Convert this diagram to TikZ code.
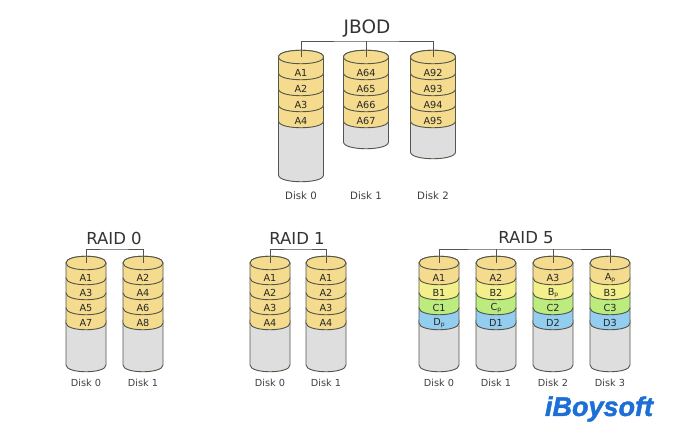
\documentclass[tikz,border=0pt]{standalone}
\usepackage{fontspec}
\setmainfont{DejaVu Sans}
\newfontfamily\logofont[FakeBold=1.6]{Liberation Sans}
\definecolor{bandA}{HTML}{F4DB8E}
\definecolor{bandB}{HTML}{F3F08C}
\definecolor{bandC}{HTML}{BCEB7E}
\definecolor{bandD}{HTML}{93CDEF}
\definecolor{bodygrey}{HTML}{DEDEDE}
\definecolor{edgegrey}{HTML}{55554A}
\definecolor{logoblue}{HTML}{1C6FD6}
\tikzset{
  diskedge/.style={draw=edgegrey,line width=0.9pt},
  bandtext/.style={font=\fontsize{9.7}{10}\selectfont,text=black!85,inner sep=0pt},
  disktext/.style={font=\fontsize{9.7}{10}\selectfont,text=black!75,inner sep=0pt},
  titletext/.style={font=\fontsize{16.5}{18}\selectfont,text=black!80,inner sep=0pt},
  bus/.style={draw=edgegrey,line width=0.9pt}
}
% half width of a disk and height of one band
\def\dr{20}
\def\bh{15}
% name, x, y of the band's top edge, colour, text
\newcommand{\diskband}[5]{
  \begin{scope}[shift={(#2,#3)}]
    \filldraw[diskedge,fill=#4] (-\dr,0) .. controls (-\dr,-9) and (\dr,-9) .. (\dr,0) -- (\dr,\bh) .. controls (\dr,\bh+9) and (-\dr,\bh+9) .. (-\dr,\bh) -- cycle;
    \node[bandtext] (#1) at (0,\bh) {#5};
  \end{scope}}
% x, y of the top edge, y of the bottom edge
\newcommand{\diskbody}[3]{
  \filldraw[diskedge,fill=bodygrey] (#1-\dr,#2) -- (#1-\dr,#3) .. controls (#1-\dr,#3+9) and (#1+\dr,#3+9) .. (#1+\dr,#3) -- (#1+\dr,#2) -- cycle;}
% name, x, y, colour
\newcommand{\diskcap}[4]{
  \filldraw[diskedge,fill=#4] (#2-\dr,#3) .. controls (#2-\dr,#3-9) and (#2+\dr,#3-9) .. (#2+\dr,#3) .. controls (#2+\dr,#3+9) and (#2-\dr,#3+9) .. (#2-\dr,#3) -- cycle;
  \coordinate (#1) at (#2,#3);}
\newcommand{\sub}[1]{{\fontsize{6}{6}\selectfont\raisebox{-0.5pt}{#1}}}
\begin{document}
\begin{tikzpicture}[x=1pt,y=-1pt]
  \useasboundingbox (0,0) rectangle (675,430);
  \fill[white] (0,0) rectangle (675,430);

  % JBOD
  \def\dr{22.5}
  \def\bh{16}
  \diskbody{301}{120}{175}
  \diskband{j0d}{301}{105}{bandA}{A4}
  \diskband{j0c}{301}{89}{bandA}{A3}
  \diskband{j0b}{301}{73}{bandA}{A2}
  \diskband{j0a}{301}{57}{bandA}{A1}
  \diskcap{jtop0}{301}{57}{bandA}
  \diskbody{366}{120}{142}
  \diskband{j1d}{366}{105}{bandA}{A67}
  \diskband{j1c}{366}{89}{bandA}{A66}
  \diskband{j1b}{366}{73}{bandA}{A65}
  \diskband{j1a}{366}{57}{bandA}{A64}
  \diskcap{jtop1}{366}{57}{bandA}
  \diskbody{433}{120}{152}
  \diskband{j2d}{433}{105}{bandA}{A95}
  \diskband{j2c}{433}{89}{bandA}{A94}
  \diskband{j2b}{433}{73}{bandA}{A93}
  \diskband{j2a}{433}{57}{bandA}{A92}
  \diskcap{jtop2}{433}{57}{bandA}
  \coordinate (jbus) at (366,41);
  \draw[bus] (jtop0) |- (jbus) -| (jtop2);
  \draw[bus] (jtop1) -- (jbus);
  \node[titletext,font=\fontsize{18.5}{20}\selectfont] (jtitle) at (367,28) {JBOD};
  \node[disktext,font=\fontsize{10.2}{11}\selectfont] (jdisk0) at (301,196) {Disk 0};
  \node[disktext,font=\fontsize{10.2}{11}\selectfont] (jdisk1) at (366,196) {Disk 1};
  \node[disktext,font=\fontsize{10.2}{11}\selectfont] (jdisk2) at (433,196) {Disk 2};

  % RAID 0
  \def\dr{20}
  \def\bh{15}
  \diskbody{86}{320}{365}
  \diskband{a0d}{86}{308}{bandA}{A7}
  \diskband{a0c}{86}{293}{bandA}{A5}
  \diskband{a0b}{86}{278}{bandA}{A3}
  \diskband{a0a}{86}{263}{bandA}{A1}
  \diskcap{atop0}{86}{263}{bandA}
  \diskbody{143}{320}{365}
  \diskband{a1d}{143}{308}{bandA}{A8}
  \diskband{a1c}{143}{293}{bandA}{A6}
  \diskband{a1b}{143}{278}{bandA}{A4}
  \diskband{a1a}{143}{263}{bandA}{A2}
  \diskcap{atop1}{143}{263}{bandA}
  \coordinate (abus) at (114,249);
  \draw[bus] (atop0) |- (abus) -| (atop1);
  \node[titletext] (atitle) at (114,238) {RAID 0};
  \node[disktext] (adisk0) at (86,383) {Disk 0};
  \node[disktext] (adisk1) at (143,383) {Disk 1};

  % RAID 1
  \diskbody{270}{320}{365}
  \diskband{b0d}{270}{308}{bandA}{A4}
  \diskband{b0c}{270}{293}{bandA}{A3}
  \diskband{b0b}{270}{278}{bandA}{A2}
  \diskband{b0a}{270}{263}{bandA}{A1}
  \diskcap{btop0}{270}{263}{bandA}
  \diskbody{326}{320}{365}
  \diskband{b1d}{326}{308}{bandA}{A4}
  \diskband{b1c}{326}{293}{bandA}{A3}
  \diskband{b1b}{326}{278}{bandA}{A2}
  \diskband{b1a}{326}{263}{bandA}{A1}
  \diskcap{btop1}{326}{263}{bandA}
  \coordinate (bbus) at (298,249);
  \draw[bus] (btop0) |- (bbus) -| (btop1);
  \node[titletext] (btitle) at (297,238) {RAID 1};
  \node[disktext] (bdisk0) at (270,383) {Disk 0};
  \node[disktext] (bdisk1) at (326,383) {Disk 1};

  % RAID 5
  \diskbody{439}{320}{365}
  \diskband{c0d}{439}{308}{bandD}{D\sub{p}}
  \diskband{c0c}{439}{293}{bandC}{C1}
  \diskband{c0b}{439}{278}{bandB}{B1}
  \diskband{c0a}{439}{263}{bandA}{A1}
  \diskcap{ctop0}{439}{263}{bandA}
  \diskbody{496}{320}{365}
  \diskband{c1d}{496}{308}{bandD}{D1}
  \diskband{c1c}{496}{293}{bandC}{C\sub{p}}
  \diskband{c1b}{496}{278}{bandB}{B2}
  \diskband{c1a}{496}{263}{bandA}{A2}
  \diskcap{ctop1}{496}{263}{bandA}
  \diskbody{553}{320}{365}
  \diskband{c2d}{553}{308}{bandD}{D2}
  \diskband{c2c}{553}{293}{bandC}{C2}
  \diskband{c2b}{553}{278}{bandB}{B\sub{p}}
  \diskband{c2a}{553}{263}{bandA}{A3}
  \diskcap{ctop2}{553}{263}{bandA}
  \diskbody{610}{320}{365}
  \diskband{c3d}{610}{308}{bandD}{D3}
  \diskband{c3c}{610}{293}{bandC}{C3}
  \diskband{c3b}{610}{278}{bandB}{B3}
  \diskband{c3a}{610}{263}{bandA}{A\sub{p}}
  \diskcap{ctop3}{610}{263}{bandA}
  \coordinate (cbus) at (496,249);
  \coordinate (cbusr) at (553,249);
  \draw[bus] (ctop0) |- (cbus) -- (cbusr) -| (ctop3);
  \draw[bus] (ctop1) -- (cbus);
  \draw[bus] (ctop2) -- (cbusr);
  \node[titletext] (ctitle) at (526,238) {RAID 5};
  \node[disktext] (cdisk0) at (439,383) {Disk 0};
  \node[disktext] (cdisk1) at (496,383) {Disk 1};
  \node[disktext] (cdisk2) at (553,383) {Disk 2};
  \node[disktext] (cdisk3) at (610,383) {Disk 3};

  \node[font=\logofont\bfseries\itshape\fontsize{27}{29}\selectfont,text=logoblue,inner sep=0pt] (logo) at (599,409) {iBoysoft};
\end{tikzpicture}
\end{document}
